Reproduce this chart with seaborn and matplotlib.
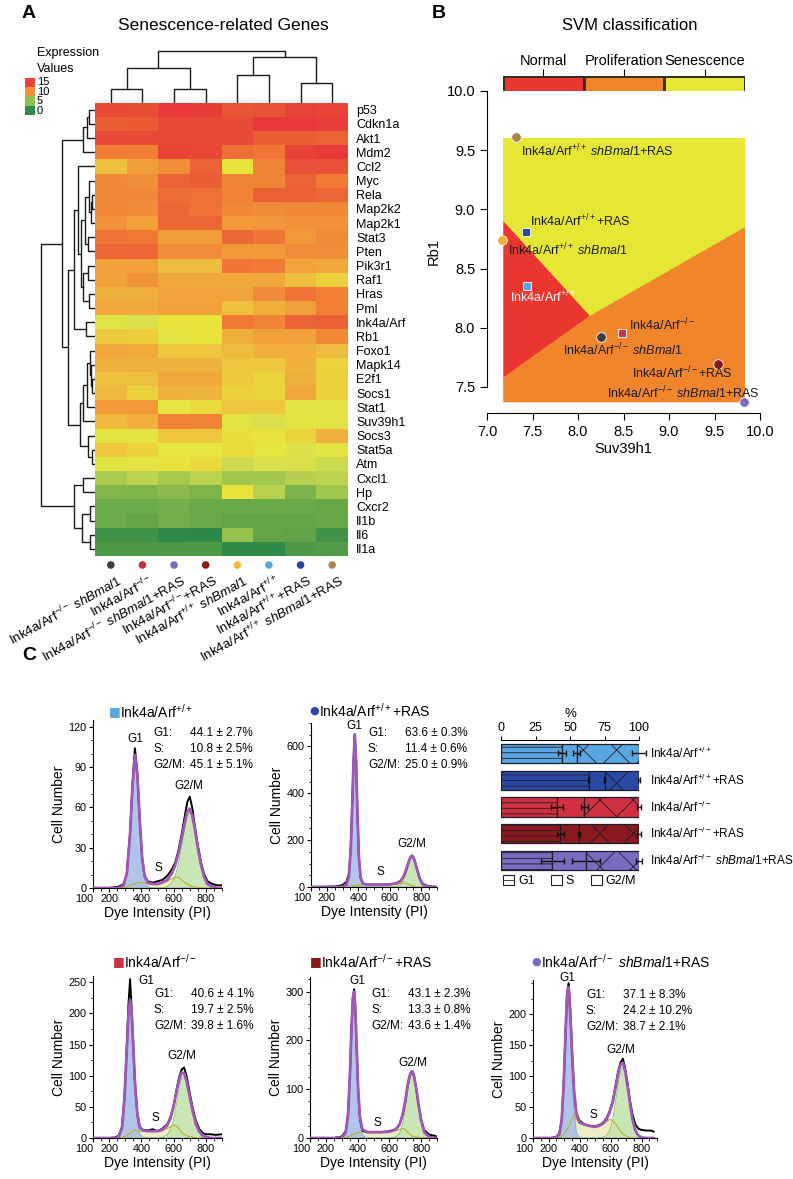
import numpy as np
import pandas as pd
import matplotlib
matplotlib.use('Agg')
import matplotlib.pyplot as plt
import seaborn as sns
from matplotlib.colors import LinearSegmentedColormap, ListedColormap
from matplotlib.patches import Rectangle, Polygon, Patch
from matplotlib.ticker import FixedLocator, MultipleLocator

sns.set_theme(style='ticks')
plt.rcParams['font.family'] = ['Liberation Sans', 'DejaVu Sans']
plt.rcParams['mathtext.fontset'] = 'custom'
plt.rcParams['mathtext.rm'] = 'Liberation Sans'
plt.rcParams['mathtext.it'] = 'Liberation Sans:italic'
plt.rcParams['mathtext.bf'] = 'Liberation Sans:bold'
plt.rcParams['hatch.linewidth'] = 0.6
for k in ['text.color', 'axes.labelcolor', 'xtick.color', 'ytick.color', 'axes.edgecolor']:
    plt.rcParams[k] = 'black'
plt.rcParams['axes.linewidth'] = 0.8

# ------------------------------------------------------------------ DATA
WT = r'Ink4a/Arf$^{+/+}$'
KO = r'Ink4a/Arf$^{-/-}$'
SH = r'$\mathit{shBmal1}$'

genes = ['p53', 'Cdkn1a', 'Akt1', 'Mdm2', 'Ccl2', 'Myc', 'Rela', 'Map2k2', 'Map2k1', 'Stat3',
         'Pten', 'Pik3r1', 'Raf1', 'Hras', 'Pml', 'Ink4a/Arf', 'Rb1', 'Foxo1', 'Mapk14', 'E2f1',
         'Socs1', 'Stat1', 'Suv39h1', 'Socs3', 'Stat5a', 'Atm', 'Cxcl1', 'Hp', 'Cxcr2', 'Il1b',
         'Il6', 'Il1a']
samples = [KO + ' ' + SH, KO, KO + ' ' + SH + '+RAS', KO + '+RAS',
           WT + ' ' + SH, WT, WT + '+RAS', WT + ' ' + SH + '+RAS']
sample_colors = ['#3b3b3b', '#c8303f', '#7a6bbf', '#8b1a1f', '#f5b731', '#5ba8e0', '#2a44a0', '#a8884e']
expr = [
    [13.5, 13.4, 14.8, 14.7, 13.0, 13.1, 14.2, 14.1],   # p53
    [12.5, 12.7, 13.8, 13.5, 13.5, 15.0, 15.0, 14.5],   # Cdkn1a
    [13.8, 13.6, 13.6, 13.5, 13.5, 12.5, 12.5, 12.3],   # Akt1
    [11.0, 11.0, 14.0, 13.7, 11.7, 11.4, 14.2, 15.0],   # Mdm2
    [8.7, 10.0, 10.5, 12.2, 7.5, 10.8, 13.3, 13.2],     # Ccl2
    [10.7, 10.5, 12.3, 12.5, 10.8, 10.8, 12.3, 11.2],   # Myc
    [10.7, 10.7, 11.7, 11.6, 10.9, 12.4, 12.4, 12.0],   # Rela
    [10.7, 10.6, 12.0, 11.5, 10.7, 10.6, 10.7, 10.7],   # Map2k2
    [10.4, 9.9, 12.0, 12.0, 10.1, 10.2, 10.3, 10.4],    # Map2k1
    [11.5, 11.3, 10.0, 10.0, 12.0, 11.4, 10.1, 10.6],   # Stat3
    [12.0, 12.0, 10.5, 10.5, 10.1, 10.1, 10.5, 10.5],   # Pten
    [9.9, 9.9, 8.8, 8.8, 11.4, 11.2, 9.7, 9.6],         # Pik3r1
    [9.8, 10.3, 9.6, 9.6, 9.6, 9.6, 8.7, 8.2],          # Raf1
    [9.2, 9.2, 9.7, 9.7, 9.7, 10.6, 11.5, 11.0],        # Hras
    [9.6, 9.5, 9.8, 9.8, 8.7, 9.3, 9.8, 11.0],          # Pml
    [7.2, 6.9, 7.5, 7.5, 11.2, 10.8, 12.3, 12.4],       # Ink4a/Arf
    [8.4, 8.3, 7.3, 7.6, 9.2, 9.9, 9.8, 10.7],          # Rb1
    [9.6, 9.4, 8.5, 8.5, 8.8, 9.3, 9.3, 8.8],           # Foxo1
    [9.2, 9.1, 9.1, 9.1, 8.5, 8.5, 9.1, 8.1],           # Mapk14
    [8.7, 8.7, 9.6, 9.5, 8.4, 8.1, 9.2, 8.2],           # E2f1
    [8.9, 8.2, 9.1, 9.0, 8.2, 8.1, 9.5, 8.2],           # Socs1
    [10.1, 10.1, 7.4, 7.9, 8.5, 8.5, 7.2, 7.2],         # Stat1
    [8.9, 9.3, 10.9, 10.8, 7.3, 6.9, 7.3, 7.2],         # Suv39h1
    [7.3, 7.3, 8.5, 8.5, 7.7, 7.5, 8.1, 9.2],           # Socs3
    [8.5, 8.2, 7.4, 7.4, 7.8, 7.4, 7.0, 7.3],           # Stat5a
    [7.3, 7.3, 7.6, 7.9, 6.5, 6.9, 6.9, 6.5],           # Atm
    [5.4, 6.0, 5.3, 6.0, 5.1, 5.1, 5.8, 6.0],           # Cxcl1
    [4.2, 4.1, 4.4, 4.1, 7.5, 5.9, 4.0, 5.1],           # Hp
    [3.4, 3.4, 3.7, 3.3, 3.3, 3.3, 3.3, 3.2],           # Cxcr2
    [3.4, 3.0, 3.6, 3.3, 3.0, 3.0, 3.0, 3.2],           # Il1b
    [1.8, 1.8, 1.0, 0.7, 4.8, 3.0, 2.9, 1.8],           # Il6
    [2.3, 2.3, 2.4, 2.4, 1.1, 1.1, 2.3, 2.5],           # Il1a
]
# dendrogram trees: (left, right, merge height); leaves are row/column indices
row_tree = (((((0, 1, 6), 2, 8), 3, 12),
             (((4, (((5, ((6, 7, 3), 8, 4), 6), (9, 10, 7), 10), ((11, 12, 7), (13, 14, 6), 12), 14), 17),
               (15, 16, 9), 21),
              (((((17, (18, (19, 20, 3), 4), 5), 21, 8), 22, 12), (23, (24, 25, 3), 7), 15)), 27), 33),
            (((26, 27, 12), ((28, 29, 5), (30, 31, 5), 13), 21)), 54)
col_tree = (((0, 1, 14), (2, 3, 14), 35), ((4, 5, 28), (6, 7, 20), 46), 52)
legend_values = ['15', '10', '5', '0']
legend_colors = ['#e8423a', '#f1923a', '#8dc151', '#2e8b4d']

# SVM panel
svm_classes = ['Normal', 'Proliferation', 'Senescence']
svm_colors = ['#e9362f', '#f0852c', '#e6e634']
svm_box = [7.18, 9.835, 7.37, 9.60]
red_poly_x = [7.18, 8.13, 7.18]
red_poly_y = [8.90, 8.10, 7.58]
orange_poly_x = [7.18, 8.13, 9.835, 9.835, 7.18]
orange_poly_y = [7.58, 8.10, 8.85, 7.37, 7.37]
pt_names = [WT + ' ' + SH + '+RAS', WT + '+RAS', WT + ' ' + SH, WT,
            KO, KO + ' ' + SH, KO + '+RAS', KO + ' ' + SH + '+RAS']
pt_suv = [7.32, 7.43, 7.17, 7.44, 8.48, 8.25, 9.54, 9.82]
pt_rb1 = [9.61, 8.81, 8.74, 8.35, 7.96, 7.92, 7.69, 7.37]
pt_marker = ['o', 's', 'o', 's', 's', 'o', 'o', 'o']
pt_color = ['#a8884e', '#2a48a0', '#f0b030', '#5aa6e0', '#c83545', '#3a3a3a', '#8b1a1f', '#7a6bc0']
lab_x = [7.37, 7.47, 7.23, 7.25, 8.56, 7.83, 8.59, 8.32]
lab_y = [9.49, 8.90, 8.66, 8.26, 8.02, 7.81, 7.62, 7.45]
lab_col = ['#1a1a1a', '#1a1a1a', '#1a1a1a', 'white', '#1a1a1a', '#1a1a1a', '#1a1a1a', '#1a1a1a']

# Cell-cycle bar chart
bar_names = [WT, WT + '+RAS', KO, KO + '+RAS', KO + ' ' + SH + '+RAS']
bar_colors = ['#5aa6e0', '#2a4aa6', '#d0303f', '#8b1a1f', '#7a6bc0']
g1_pct = [44.1, 63.6, 40.6, 43.1, 37.1]
s_pct = [10.8, 11.4, 19.7, 13.3, 24.2]
g2_pct = [45.1, 25.0, 39.8, 43.6, 38.7]
g1_err = [2.7, 0.3, 4.1, 2.3, 8.3]
s_err = [2.5, 0.6, 2.5, 0.8, 10.2]
g2_err = [5.1, 0.9, 1.6, 1.4, 2.1]

# Flow histograms (Dye intensity vs cell number)
x1 = [100, 200, 260, 290, 310, 330, 345, 360, 375, 390, 405, 420, 440, 470, 500, 530, 560, 590, 610, 630, 650, 670, 685, 700, 715, 730, 750, 770, 790, 810, 840, 870, 900]
g1_1 = [0, 0, 0, 2, 10, 38, 72, 96, 80, 46, 18, 5, 1, 0, 0, 0, 0, 0, 0, 0, 0, 0, 0, 0, 0, 0, 0, 0, 0, 0, 0, 0, 0]
s_1 = [0, 0, 0, 0, 1, 2, 3, 3, 4, 4, 4, 4, 3, 3, 3, 4, 5, 7, 8, 8, 6, 4, 3, 2, 1, 1, 0, 0, 0, 0, 0, 0, 0]
g2_1 = [0, 0, 0, 0, 0, 0, 0, 0, 0, 0, 0, 0, 0, 0, 0, 0, 1, 4, 9, 18, 31, 45, 54, 57, 53, 44, 30, 17, 8, 3, 1, 0, 0]
raw_1 = [0, 0, 1, 3, 11, 42, 78, 104, 86, 50, 22, 9, 5, 4, 5, 6, 9, 14, 19, 28, 40, 54, 64, 68, 60, 47, 32, 19, 10, 5, 3, 2, 2]

x2 = [100, 250, 300, 325, 340, 352, 362, 370, 378, 386, 394, 404, 415, 430, 460, 500, 550, 600, 640, 670, 690, 705, 720, 730, 740, 750, 760, 775, 790, 810, 840, 870, 900]
g1_2 = [0, 0, 1, 8, 40, 150, 350, 530, 640, 540, 330, 120, 30, 5, 0, 0, 0, 0, 0, 0, 0, 0, 0, 0, 0, 0, 0, 0, 0, 0, 0, 0, 0]
s_2 = [0, 0, 0, 1, 2, 4, 5, 6, 7, 8, 9, 10, 10, 10, 10, 10, 10, 11, 13, 16, 18, 16, 12, 9, 6, 4, 3, 1, 0, 0, 0, 0, 0]
g2_2 = [0, 0, 0, 0, 0, 0, 0, 0, 0, 0, 0, 0, 0, 0, 0, 0, 0, 0, 2, 10, 30, 58, 95, 115, 126, 120, 104, 70, 36, 10, 1, 0, 0]
raw_2 = [0, 2, 8, 22, 55, 160, 360, 540, 652, 545, 335, 125, 38, 14, 10, 10, 10, 12, 15, 26, 48, 76, 108, 126, 135, 128, 110, 73, 38, 14, 4, 2, 1]

x3 = [100, 200, 240, 260, 280, 295, 310, 320, 330, 340, 350, 360, 375, 390, 410, 440, 470, 500, 530, 560, 580, 600, 620, 635, 650, 665, 680, 700, 720, 740, 760, 780, 800, 830, 860, 900]
g1_3 = [0, 0, 0, 2, 15, 60, 140, 192, 214, 190, 135, 78, 26, 6, 1, 0, 0, 0, 0, 0, 0, 0, 0, 0, 0, 0, 0, 0, 0, 0, 0, 0, 0, 0, 0, 0]
s_3 = [0, 0, 0, 0, 1, 2, 4, 6, 8, 10, 12, 13, 12, 11, 11, 11, 11, 11, 12, 15, 18, 21, 19, 14, 9, 6, 4, 2, 1, 0, 0, 0, 0, 0, 0, 0]
g2_3 = [0, 0, 0, 0, 0, 0, 0, 0, 0, 0, 0, 0, 0, 0, 0, 0, 0, 0, 1, 5, 13, 30, 58, 80, 96, 98, 88, 64, 40, 21, 10, 4, 2, 0, 0, 0]
raw_3 = [0, 0, 1, 4, 18, 65, 150, 215, 255, 205, 145, 88, 38, 18, 13, 12, 14, 11, 15, 22, 33, 52, 80, 98, 110, 113, 100, 72, 46, 26, 14, 8, 6, 6, 5, 6]

x4 = [100, 250, 300, 325, 340, 352, 362, 370, 378, 386, 394, 404, 415, 430, 460, 500, 550, 600, 640, 665, 685, 700, 715, 725, 735, 745, 755, 770, 785, 800, 820, 850, 880, 900]
g1_4 = [0, 0, 1, 10, 45, 130, 225, 280, 292, 255, 175, 85, 30, 6, 0, 0, 0, 0, 0, 0, 0, 0, 0, 0, 0, 0, 0, 0, 0, 0, 0, 0, 0, 0]
s_4 = [0, 0, 0, 1, 2, 4, 6, 7, 8, 9, 10, 11, 12, 12, 12, 12, 12, 13, 15, 18, 20, 17, 12, 9, 6, 4, 3, 2, 1, 0, 0, 0, 0, 0]
g2_4 = [0, 0, 0, 0, 0, 0, 0, 0, 0, 0, 0, 0, 0, 0, 0, 0, 0, 0, 2, 10, 30, 58, 95, 115, 128, 132, 124, 98, 64, 36, 12, 2, 0, 0]
raw_4 = [0, 0, 3, 14, 50, 135, 230, 287, 305, 262, 180, 92, 38, 15, 12, 12, 12, 14, 18, 28, 50, 76, 108, 124, 135, 137, 128, 100, 66, 38, 16, 7, 5, 3]

x5 = [100, 220, 250, 270, 285, 298, 310, 320, 330, 340, 352, 365, 380, 400, 430, 460, 490, 520, 550, 575, 595, 615, 635, 650, 665, 680, 695, 710, 725, 740, 760, 780, 800, 830, 860, 880]
g1_5 = [0, 0, 1, 5, 25, 80, 160, 218, 225, 180, 105, 40, 8, 1, 0, 0, 0, 0, 0, 0, 0, 0, 0, 0, 0, 0, 0, 0, 0, 0, 0, 0, 0, 0, 0, 0]
s_5 = [0, 0, 0, 1, 3, 6, 10, 14, 18, 24, 32, 36, 30, 24, 22, 20, 18, 19, 22, 26, 30, 28, 22, 16, 11, 7, 4, 2, 1, 0, 0, 0, 0, 0, 0, 0]
g2_5 = [0, 0, 0, 0, 0, 0, 0, 0, 0, 0, 0, 0, 0, 0, 0, 0, 0, 0, 1, 4, 12, 30, 62, 88, 108, 114, 104, 82, 56, 32, 12, 4, 1, 0, 0, 0]
raw_5 = [0, 0, 2, 8, 30, 88, 170, 235, 250, 210, 140, 75, 40, 28, 22, 20, 19, 20, 24, 32, 44, 60, 88, 108, 122, 128, 112, 88, 62, 40, 22, 15, 13, 12, 12, 10]

# ------------------------------------------------------------------ FIGURE
W, H = 793, 1179
fig = plt.figure(figsize=(W / 100, H / 100), dpi=100)


def rect(l, t, r, b):
    return [l / W, 1 - b / H, (r - l) / W, (b - t) / H]


def ftext(x, y, s, **kw):
    kw.setdefault('va', 'center')
    return fig.text(x / W, 1 - y / H, s, **kw)


def fbox(x0, y0, x1_, y1_, color):
    fig.add_artist(Rectangle((x0 / W, 1 - y1_ / H), (x1_ - x0) / W, (y1_ - y0) / H,
                             transform=fig.transFigure, facecolor=color, edgecolor='none'))


# ---------------- Panel A
ftext(22, 14, 'A', fontsize=14, fontweight='bold')
ftext(223, 25, 'Senescence-related Genes', fontsize=12.5, ha='center')
ftext(37, 53, 'Expression', fontsize=9)
ftext(37, 69, 'Values', fontsize=9)
for i, (v, c) in enumerate(zip(legend_values, legend_colors)):
    y0 = 77.5 + i * 9.4
    fbox(25, y0, 34.5, y0 + 9.4, c)
    ftext(37, y0 + 4.8, v, fontsize=8)

cmap_nodes = [(0, '#2a8748'), (1, '#2e8a48'), (2, '#459447'), (3, '#62a546'), (4, '#7cb34a'),
              (5, '#9dc64c'), (6, '#bcd34f'), (7, '#dde24a'), (7.5, '#e8e43b'), (8.5, '#edc83d'),
              (9, '#efb53c'), (10, '#f19d3a'), (11, '#f07f35'), (12, '#ec6734'), (13.5, '#e84c36'),
              (15, '#e8383a')]
cmap = LinearSegmentedColormap.from_list('expr', [(v / 15, c) for v, c in cmap_nodes])

ax_hm = fig.add_axes(rect(95, 102.7, 348, 556))
df = pd.DataFrame(expr, index=genes, columns=[f's{i}' for i in range(8)])
sns.heatmap(df, ax=ax_hm, cmap=cmap, vmin=0, vmax=15, cbar=False,
            xticklabels=False, yticklabels=genes)
ax_hm.yaxis.tick_right()
ax_hm.tick_params(axis='y', length=0, labelsize=9, pad=6, left=False, right=False)
plt.setp(ax_hm.get_yticklabels(), rotation=0)
ax_hm.set_xlabel('')
ax_hm.set_ylabel('')


def draw_tree(ax, node, orient):
    if isinstance(node, int):
        return node + 0.5, 0.0
    l, r, h = node
    pl, hl = draw_tree(ax, l, orient)
    pr, hr = draw_tree(ax, r, orient)
    if orient == 'top':
        ax.plot([pl, pl, pr, pr], [hl, h, h, hr], color='#1a1a1a', lw=1.0)
    else:
        ax.plot([hl, h, h, hr], [pl, pl, pr, pr], color='#1a1a1a', lw=1.0)
    return (pl + pr) / 2, h


ax_cd = fig.add_axes(rect(95, 48, 348, 102.7))
draw_tree(ax_cd, col_tree, 'top')
ax_cd.set_xlim(0, 8)
ax_cd.set_ylim(0, 54.7)
ax_cd.axis('off')

ax_rd = fig.add_axes(rect(38, 102.7, 95, 556))
draw_tree(ax_rd, row_tree, 'left')
ax_rd.set_xlim(57, 0)
ax_rd.set_ylim(32, 0)
ax_rd.axis('off')

ax_dot = fig.add_axes(rect(95, 558, 348, 572))
sns.scatterplot(x=np.arange(8) + 0.5, y=np.full(8, 0.5), hue=np.arange(8),
                palette=sample_colors, s=30, edgecolor='none', legend=False, ax=ax_dot)
ax_dot.set_xlim(0, 8)
ax_dot.set_ylim(0, 1)
ax_dot.axis('off')
for i, lab in enumerate(samples):
    xd = 95 + (i + 0.5) * 253 / 8
    ftext(xd + 6, 572, lab, fontsize=9.5, ha='right', va='top', rotation=29,
          rotation_mode='anchor')

# ---------------- Panel B
ftext(432, 14, 'B', fontsize=14, fontweight='bold')
ftext(630, 25, 'SVM classification', fontsize=12, ha='center')
ax_cb = fig.add_axes(rect(503, 76, 745, 99))
sns.heatmap([[0, 1, 2]], ax=ax_cb, cmap=ListedColormap(svm_colors), vmin=-0.5, vmax=2.5,
            cbar=False, linewidths=0.8, linecolor='#333322', xticklabels=svm_classes,
            yticklabels=False)
ax_cb.xaxis.tick_top()
ax_cb.tick_params(axis='x', top=True, bottom=False, labeltop=True, labelbottom=False,
                  length=5, width=0.8, labelsize=10.5, pad=1, rotation=0)
ax_cb.tick_params(axis='y', left=False)

ax_s = fig.add_axes(rect(487, 91, 760, 413))
ax_s.set_xlim(7.0, 10.0)
ax_s.set_ylim(7.28, 10.0)
ax_s.add_patch(Rectangle((svm_box[0], svm_box[2]), svm_box[1] - svm_box[0], svm_box[3] - svm_box[2],
                         facecolor=svm_colors[2], edgecolor='none', zorder=0))
ax_s.add_patch(Polygon(np.column_stack([orange_poly_x, orange_poly_y]), closed=True,
                       facecolor=svm_colors[1], edgecolor='none', zorder=1))
ax_s.add_patch(Polygon(np.column_stack([red_poly_x, red_poly_y]), closed=True,
                       facecolor=svm_colors[0], edgecolor='none', zorder=1))
for xv, yv, m, c in zip(pt_suv, pt_rb1, pt_marker, pt_color):
    ax_s.scatter([xv], [yv], marker=m, s=48 if m == 'o' else 32, color=c,
                 edgecolor='white', linewidth=0.6, zorder=5, clip_on=False)
for xv, yv, t, c in zip(lab_x, lab_y, pt_names, lab_col):
    ax_s.text(xv, yv, t, fontsize=9, color=c, ha='left', va='center', zorder=6, clip_on=False)
sns.despine(ax=ax_s)
ax_s.spines['left'].set_bounds(7.5, 10.0)
ax_s.set_xticks([7.0, 7.5, 8.0, 8.5, 9.0, 9.5, 10.0])
ax_s.set_yticks([7.5, 8.0, 8.5, 9.0, 9.5, 10.0])
ax_s.set_xticklabels([f'{v:.1f}' for v in ax_s.get_xticks()])
ax_s.set_yticklabels([f'{v:.1f}' for v in ax_s.get_yticks()])
ax_s.tick_params(length=5, width=0.8, labelsize=10.5, direction='out', bottom=True, left=True)
ax_s.set_xlabel('Suv39h1', fontsize=10.5, labelpad=2)
ax_s.set_ylabel('Rb1', fontsize=10.5, labelpad=4)

# ---------------- Panel C
ftext(22, 656, 'C', fontsize=14, fontweight='bold')


def hist_panel(box, x, g1, s, g2, raw, ymax, yticks, yminor, title, tcol, tmark, tpos,
               stats, spos, peaks):
    ax = fig.add_axes(rect(*box))
    x = np.asarray(x, float)
    g1 = np.asarray(g1, float)
    s = np.asarray(s, float)
    g2 = np.asarray(g2, float)
    fit = g1 + s + g2
    ax.fill_between(x, s, color='#eeeec4', lw=0, zorder=1)
    ax.fill_between(x, g1, color='#a9bfe9', alpha=0.9, lw=0, zorder=2)
    ax.fill_between(x, g2, color='#c6e4ae', alpha=0.9, lw=0, zorder=2)
    ax.plot(x, g1, color='#8aa6dd', lw=0.6, zorder=3)
    ax.plot(x, g2, color='#86bb5a', lw=0.6, zorder=3)
    ax.plot(x, s, color='#b4b43c', lw=0.9, zorder=3)
    ax.plot(x, raw, color='black', lw=1.4, zorder=4)
    ax.plot(x, fit, color='#a057b5', lw=2.0, zorder=5)
    ax.set_xlim(100, 900)
    ax.set_ylim(0, ymax)
    ax.xaxis.set_major_locator(FixedLocator([100, 200, 400, 600, 800]))
    ax.xaxis.set_minor_locator(MultipleLocator(50))
    ax.yaxis.set_major_locator(FixedLocator(yticks))
    ax.yaxis.set_minor_locator(MultipleLocator(yminor))
    ax.tick_params(which='major', length=3, width=0.8, labelsize=7.8, pad=1.5,
                   direction='out', bottom=True, left=True)
    ax.tick_params(which='minor', length=1.8, width=0.6, direction='out', bottom=True, left=True)
    ax.set_xticklabels(['100', '200', '400', '600', '800'])
    ax.get_xticklabels()[0].set_horizontalalignment('right')
    sns.despine(ax=ax)
    ax.set_xlabel('Dye Intensity (PI)', fontsize=10, labelpad=1)
    ax.set_ylabel('Cell Number', fontsize=10, labelpad=2)
    ftext(tpos[0], tpos[1], tmark, fontsize=9 if tmark == '■' else 8, color=tcol, ha='center',
          family=['DejaVu Sans'])
    ftext(tpos[0] + 5, tpos[1], title, fontsize=10, ha='left')
    for j, (nm, val) in enumerate(zip(['G1:', 'S:', 'G2/M:'], stats)):
        ftext(spos[0], spos[2] + j * 16, nm, fontsize=8.5)
        ftext(spos[1], spos[2] + j * 16, val, fontsize=8.5)
    for nm, (px_, py_) in zip(['G1', 'S', 'G2/M'], peaks):
        ftext(px_, py_, nm, fontsize=8.5, ha='center')
    return ax


def stat_strings(i):
    return [f'{g1_pct[i]:.1f} ± {g1_err[i]:.1f}%', f'{s_pct[i]:.1f} ± {s_err[i]:.1f}%',
            f'{g2_pct[i]:.1f} ± {g2_err[i]:.1f}%']


hist_panel((93, 720, 222, 888), x1, g1_1, s_1, g2_1, raw_1, 125, [0, 30, 60, 90, 120], 10,
           WT, bar_colors[0], '■', (115, 712), stat_strings(0), (153, 190, 733),
           [(135, 739), (158, 868), (189, 786)])
hist_panel((311, 723, 437, 887), x2, g1_2, s_2, g2_2, raw_2, 700, [0, 200, 400, 600], 50,
           WT + '+RAS', bar_colors[1], '●', (314, 711), stat_strings(1), (368, 405, 733),
           [(354, 726), (380, 872), (412, 844)])
hist_panel((93, 976, 222, 1138), x3, g1_3, s_3, g2_3, raw_3, 260, [0, 50, 100, 150, 200, 250], 25,
           KO, bar_colors[2], '■', (119, 962), stat_strings(2), (154, 191, 994),
           [(146, 981), (155, 1118), (182, 1056)])
hist_panel((310, 977, 437, 1138), x4, g1_4, s_4, g2_4, raw_4, 330, [0, 100, 200, 300], 25,
           KO + '+RAS', bar_colors[3], '■', (316, 962), stat_strings(3), (371, 408, 994),
           [(357, 981), (377, 1123), (413, 1063)])
hist_panel((533, 980, 657, 1138), x5, g1_5, s_5, g2_5, raw_5, 255, [0, 50, 100, 150, 200], 25,
           KO + ' ' + SH + '+RAS', bar_colors[4], '●', (536, 962), stat_strings(4), (586, 623, 995),
           [(567, 978), (593, 1115), (621, 1050)])

# stacked bar chart
ax_b = fig.add_axes(rect(501, 740, 639, 874))
rows = np.arange(5)
g1a = np.array(g1_pct)
sa = np.array(s_pct)
g2a = np.array(g2_pct)
edge = '#1c1c2a'
ax_b.barh(rows, g1a, height=0.72, color=bar_colors, edgecolor=edge, hatch='---', lw=0.9)
ax_b.barh(rows, sa, left=g1a, height=0.72, color=bar_colors, edgecolor=edge, lw=0.9)
ax_b.barh(rows, g2a, left=g1a + sa, height=0.72, color=bar_colors, edgecolor=edge, hatch='x', lw=0.9)
ax_b.errorbar(g1a, rows, xerr=g1_err, fmt='none', ecolor='#111111', elinewidth=1.0, capsize=2.5,
              clip_on=False, zorder=5)
ax_b.errorbar(g1a + sa, rows, xerr=s_err, fmt='none', ecolor='#111111', elinewidth=1.0, capsize=2.5,
              clip_on=False, zorder=5)
ax_b.errorbar(g1a + sa + g2a, rows, xerr=g2_err, fmt='none', ecolor='#111111', elinewidth=1.0,
              capsize=2.5, clip_on=False, zorder=5)
for i, nm in enumerate(bar_names):
    ax_b.text(108, i, nm, fontsize=8.5, ha='left', va='center', clip_on=False)
ax_b.set_xlim(0, 100)
ax_b.set_ylim(4.5, -0.5)
ax_b.set_yticks([])
ax_b.xaxis.tick_top()
ax_b.xaxis.set_label_position('top')
ax_b.set_xticks([0, 25, 50, 75, 100])
ax_b.tick_params(axis='x', top=True, bottom=False, length=3, width=0.8, labelsize=9, pad=1)
ax_b.set_xlabel('%', fontsize=9.5, labelpad=4)
for side in ['left', 'right', 'bottom']:
    ax_b.spines[side].set_visible(False)

handles = [Patch(facecolor='white', edgecolor='#222222', hatch='---', lw=0.8),
           Patch(facecolor='white', edgecolor='#222222', lw=0.8),
           Patch(facecolor='white', edgecolor='#222222', hatch='x', lw=0.8)]
fig.legend(handles, ['G1', 'S', 'G2/M'], loc='center left', bbox_to_anchor=(503 / W, 1 - 881 / H),
           ncol=3, frameon=False, fontsize=9, handlelength=0.9, handleheight=0.9,
           handletextpad=0.3, columnspacing=1.3, borderaxespad=0, borderpad=0)

fig.savefig('out.png', dpi=100)
